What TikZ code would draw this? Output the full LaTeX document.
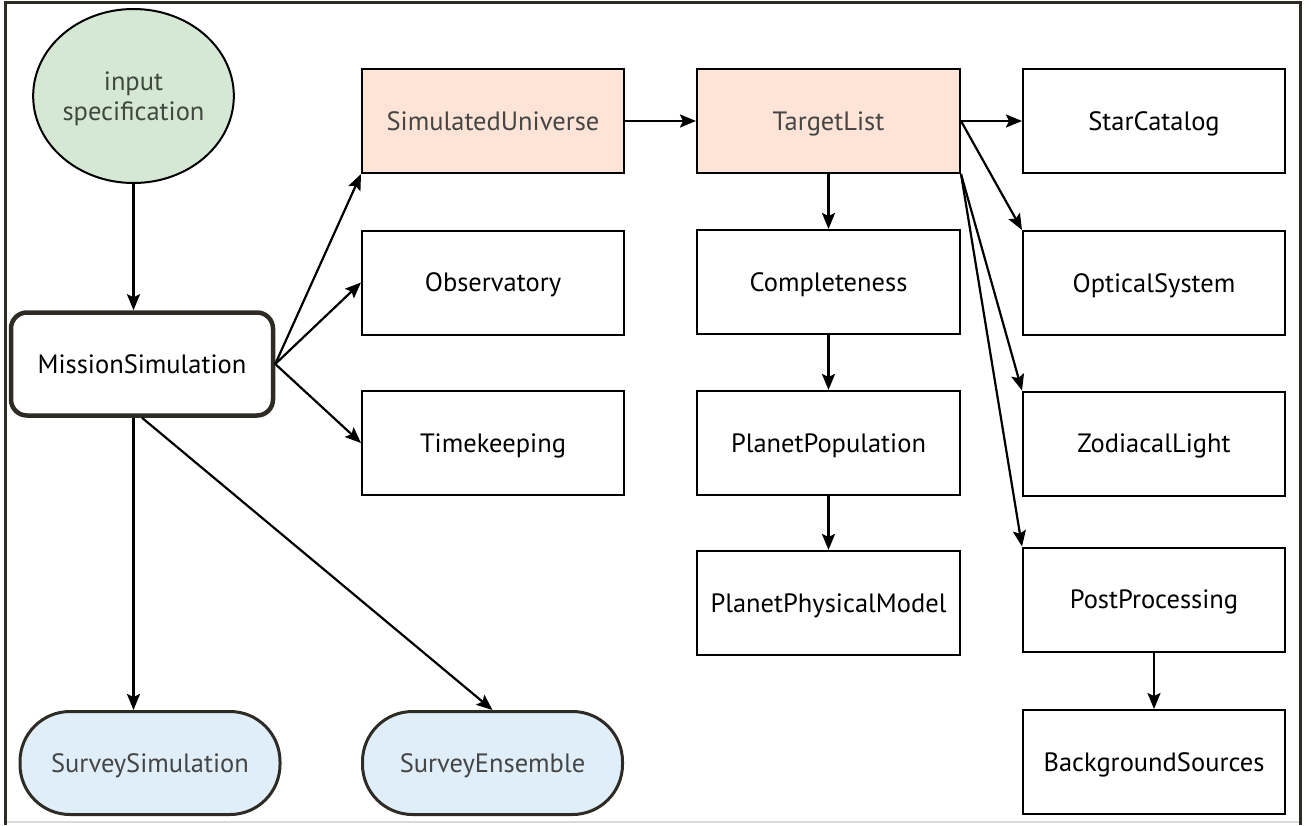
\documentclass[tikz,border=0pt]{standalone}
\usepackage{fontspec}
\setmainfont{PT Sans}
\usetikzlibrary{arrows.meta,shapes.geometric}
\definecolor{framec}{HTML}{2E2B24}
\definecolor{greenfill}{HTML}{D5E8D4}
\definecolor{peach}{HTML}{FDE4D6}
\definecolor{bluefill}{HTML}{E0EEFA}
\definecolor{greytext}{HTML}{454545}
\definecolor{greentext}{HTML}{3E4A3E}
\begin{document}
\begin{tikzpicture}[x=1pt,y=-1pt,
  txt/.style={font=\fontsize{26.5}{30}\selectfont,text depth=0pt},
  box/.style={draw=black,line width=2pt,minimum width=262pt,minimum height=104pt,inner sep=0pt,txt,text=black},
  peachbox/.style={box,fill=peach,text=greytext},
  pill/.style={draw=framec,line width=3pt,fill=bluefill,minimum width=260pt,minimum height=103pt,rounded corners=50pt,inner sep=0pt,txt,text=greytext},
  arr/.style={-{Stealth[length=16pt,width=13pt,inset=3pt]},line width=2.2pt,black}]
\useasboundingbox (0,0) rectangle (1311,825);
\fill[white] (0,0) rectangle (1311,825);
% frame
\draw[line width=1.2pt,black!15] (5,822) -- (1300,822);
\draw[line width=3pt,framec] (5,825) -- (5,2.5) -- (1300,2.5) -- (1300,825);
% nodes
\node[ellipse,draw=black,line width=2pt,fill=greenfill,minimum width=185pt,minimum height=174pt,inner sep=0pt,align=center,font=\fontsize{26.5}{30}\selectfont,text depth=-2pt,text=greentext] (inp) at (133.5,96) {input\\specification};
\node[draw=framec,line width=4.5pt,rounded corners=16pt,minimum width=262pt,minimum height=103pt,inner sep=0pt,txt] (ms) at (142,364) {MissionSimulation};
\node[pill] (ss) at (150,763) {SurveySimulation};
\node[pill] (se) at (492.5,763) {SurveyEnsemble};
\node[peachbox] (su) at (493,121) {SimulatedUniverse};
\node[box] (obs) at (493,282.5) {Observatory};
\node[box] (tk) at (493,443) {Timekeeping};
\node[peachbox,minimum width=263pt] (tl) at (828.5,121) {TargetList};
\node[box,minimum width=263pt] (comp) at (828.5,282) {Completeness};
\node[box,minimum width=263pt] (pp) at (828.5,443) {PlanetPopulation};
\node[box,minimum width=263pt] (ppm) at (828.5,603) {PlanetPhysicalModel};
\node[box] (sc) at (1154,121) {StarCatalog};
\node[box] (os) at (1154,283) {OpticalSystem};
\node[box] (zl) at (1154,443.5) {ZodiacalLight};
\node[box] (post) at (1154,599.5) {PostProcessing};
\node[box] (bs) at (1154,762) {BackgroundSources};
% connectors
\draw[arr] (inp.south) -- (inp.south |- ms.north);
\draw[arr] (inp.south |- ms.south) -- (inp.south |- ss.north);
\draw[arr] (ms.south) -- (se.north);
\draw[arr] (ms.east) -- (su.south west);
\draw[arr] (ms.east) -- (obs.west);
\draw[arr] (ms.east) -- (tk.west);
\draw[arr] (su.east) -- (tl.west);
\draw[arr] (tl.south) -- (comp.north);
\draw[arr] (comp.south) -- (pp.north);
\draw[arr] (pp.south) -- (ppm.north);
\draw[arr] (tl.east) -- (sc.west);
\draw[arr] (tl.east) -- (os.north west);
\draw[arr] (tl.south east) -- (zl.north west);
\draw[arr] (tl.south east) -- (post.north west);
\draw[arr] (post.south) -- (bs.north);
\end{tikzpicture}
\end{document}
